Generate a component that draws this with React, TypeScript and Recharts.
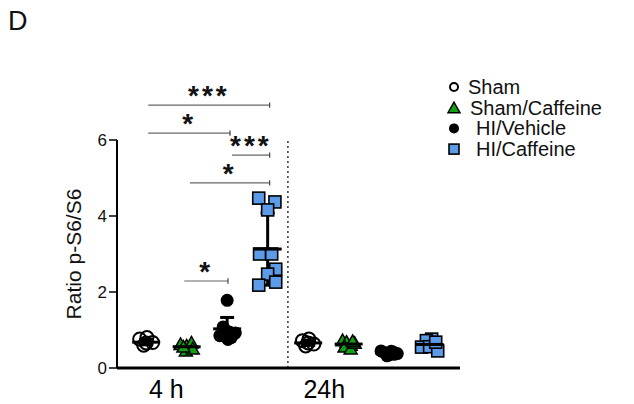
import React from "react";
import { ScatterChart, Scatter, XAxis, YAxis, ReferenceLine, ErrorBar, Label } from "recharts";

const FONT = "'Liberation Sans', Arial, sans-serif";

const groups = ["Sham", "Sham/Caffeine", "HI/Vehicle", "HI/Caffeine"];
const timeLabels = ["4 h", "24h"];
const timeTickPos = [1.5, 5.4];
const yTicks = [0, 2, 4, 6];

// values read per animal, plus horizontal jitter within the group slot
const sham4h = [0.76, 0.8, 0.67, 0.6, 0.66];
const sham4hJit = [-0.16, 0.02, 0.16, -0.06, 0.0];
const shamCaf4h = [0.62, 0.58, 0.66, 0.45, 0.5, 0.55];
const shamCaf4hJit = [-0.15, 0.0, 0.12, -0.02, 0.15, -0.08];
const hiVeh4h = [1.78, 1.08, 0.95, 0.85, 0.8, 0.92, 0.75, 1.0];
const hiVeh4hJit = [0.0, -0.1, 0.05, -0.18, 0.1, 0.2, 0.02, -0.05];
const hiCaf4h = [4.47, 4.37, 4.16, 3.0, 3.0, 2.6, 2.47, 2.26, 2.18];
const hiCaf4hJit = [-0.22, 0.18, 0.0, -0.2, 0.1, 0.2, 0.0, 0.2, -0.22];

const sham24h = [0.72, 0.76, 0.63, 0.58, 0.66];
const sham24hJit = [-0.14, 0.02, 0.14, -0.06, 0.0];
const shamCaf24h = [0.72, 0.68, 0.6, 0.55, 0.5, 0.65, 0.7];
const shamCaf24hJit = [-0.15, -0.05, 0.05, -0.1, 0.05, 0.15, 0.1];
const hiVeh24h = [0.45, 0.4, 0.35, 0.42, 0.38, 0.32, 0.36, 0.44];
const hiVeh24hJit = [-0.2, -0.1, 0.0, 0.1, 0.2, -0.05, 0.12, 0.05];
const hiCaf24h = [0.76, 0.72, 0.55, 0.56, 0.45, 0.68];
const hiCaf24hJit = [0.05, -0.08, -0.2, 0.0, 0.2, 0.15];

const means = [0.68, 0.56, 1.03, 3.13, 0.66, 0.63, 0.39, 0.62];
const sds = [0.07, 0.08, 0.3, 0.95, 0.06, 0.08, 0.05, 0.11];

const brackets = [
  { x1: 1.05, x2: 4.05, y: 6.92, mark: "***" },
  { x1: 1.05, x2: 3.07, y: 6.18, mark: "*" },
  { x1: 3.12, x2: 4.05, y: 5.6, mark: "***" },
  { x1: 2.08, x2: 4.05, y: 4.87, mark: "*" },
  { x1: 1.94, x2: 3.02, y: 2.29, mark: "*" },
];

const toPoints = (slot: number, vals: number[], jit: number[]) =>
  vals.map((v, i) => ({ x: slot + jit[i], y: v }));

const OpenCircle = (p: any) => (
  <circle cx={p.cx} cy={p.cy} r={6.5} fill="none" stroke="#000" strokeWidth={2} />
);
const Triangle = (p: any) => (
  <polygon
    points={`${p.cx},${p.cy - 6.5} ${p.cx - 6.5},${p.cy + 5} ${p.cx + 6.5},${p.cy + 5}`}
    fill="#12a012"
    stroke="#000"
    strokeWidth={1.5}
  />
);
const Dot = (p: any) => <circle cx={p.cx} cy={p.cy} r={6.5} fill="#000" />;
const Square = (p: any) => (
  <rect x={p.cx - 6} y={p.cy - 6} width={12} height={12} fill="#5b9be8" stroke="#000" strokeWidth={1.6} />
);
const MeanLine = (p: any) => (
  <line x1={p.cx - 14} x2={p.cx + 14} y1={p.cy} y2={p.cy} stroke="#000" strokeWidth={3} />
);

const shapes = [OpenCircle, Triangle, Dot, Square];

const series = [
  { data: toPoints(1, sham4h, sham4hJit), shape: 0 },
  { data: toPoints(2, shamCaf4h, shamCaf4hJit), shape: 1 },
  { data: toPoints(3, hiVeh4h, hiVeh4hJit), shape: 2 },
  { data: toPoints(4, hiCaf4h, hiCaf4hJit), shape: 3 },
  { data: toPoints(5, sham24h, sham24hJit), shape: 0 },
  { data: toPoints(6, shamCaf24h, shamCaf24hJit), shape: 1 },
  { data: toPoints(7, hiVeh24h, hiVeh24hJit), shape: 2 },
  { data: toPoints(8, hiCaf24h, hiCaf24hJit), shape: 3 },
];

const meanData = means.map((m, i) => ({ x: i + 1, y: m, sd: sds[i] }));

function LegendMarker({ kind, x, y }: { kind: number; x: number; y: number }) {
  if (kind === 0) return <circle cx={x} cy={y} r={4} fill="none" stroke="#000" strokeWidth={2} />;
  if (kind === 1)
    return (
      <polygon points={`${x},${y - 5.5} ${x - 6},${y + 5} ${x + 6},${y + 5}`} fill="#12a012" stroke="#000" strokeWidth={1.5} />
    );
  if (kind === 2) return <circle cx={x} cy={y} r={5} fill="#000" />;
  return <rect x={x - 5} y={y - 5} width={10} height={10} fill="#5b9be8" stroke="#000" strokeWidth={1.6} />;
}

export default function App() {
  return (
    <div style={{ position: "relative", width: 626, height: 396, fontFamily: FONT }}>
      <ScatterChart width={626} height={396} margin={{ top: 132, right: 174, bottom: 6, left: 59 }}>
        <XAxis
          dataKey="x"
          type="number"
          domain={[0.28, 8.75]}
          allowDataOverflow
          ticks={timeTickPos}
          tickFormatter={(v: number) => timeLabels[timeTickPos.indexOf(v)]}
          tickLine={false}
          axisLine={{ stroke: "#000", strokeWidth: 3 }}
          tick={{ fill: "#000", fontSize: 25, fontFamily: FONT, dy: 4 }}
          height={30}
        />
        <YAxis
          dataKey="y"
          type="number"
          domain={[0, 6]}
          ticks={yTicks}
          width={50}
          tickSize={8}
          axisLine={{ stroke: "#000", strokeWidth: 2 }}
          tickLine={{ stroke: "#000", strokeWidth: 1.5 }}
          tick={{ fill: "#111", fontSize: 17, fontFamily: FONT }}
          label={{
            content: (props: any) => {
              const vb = props.viewBox;
              const cx = vb.x + 14;
              const cy = vb.y + vb.height / 2;
              return (
                <text x={cx} y={cy} transform={`rotate(-90 ${cx} ${cy})`} textAnchor="middle" fontSize={21} fontFamily={FONT} fill="#111">
                  Ratio p-S6/S6
                </text>
              );
            },
          }}
        />
        <ReferenceLine x={4.5} stroke="#333" strokeWidth={1.5} strokeDasharray="2 3" />
        {brackets.map((b, i) => (
          <ReferenceLine
            key={"b" + i}
            segment={[
              { x: b.x1, y: b.y },
              { x: b.x2, y: b.y },
            ]}
            ifOverflow="visible"
            stroke="#666"
            strokeWidth={1.2}
          >
            <Label value={b.mark} position="top" offset={0} fontSize={28} fontWeight="bold" fill="#111" fontFamily={FONT} letterSpacing={3} />
          </ReferenceLine>
        ))}
        {brackets.map((b, i) => (
          <ReferenceLine
            key={"t" + i}
            segment={[
              { x: b.x2, y: b.y - 0.07 },
              { x: b.x2, y: b.y + 0.07 },
            ]}
            ifOverflow="visible"
            stroke="#444"
            strokeWidth={1.2}
          />
        ))}
        {series.map((s, i) => (
          <Scatter key={"s" + i} name={groups[s.shape]} data={s.data} shape={shapes[s.shape]} isAnimationActive={false} />
        ))}
        <Scatter data={meanData} shape={MeanLine} isAnimationActive={false}>
          <ErrorBar dataKey="sd" direction="y" width={7} strokeWidth={3} stroke="#000" />
        </Scatter>
      </ScatterChart>
      <div style={{ position: "absolute", left: 0, top: -2, fontSize: 27, color: "#111" }}>D</div>
      <svg style={{ position: "absolute", left: 432, top: 60 }} width={194} height={100}>
        {groups.map((g, i) => (
          <g key={g}>
            <LegendMarker kind={i} x={14} y={19 + i * 20.7} />
            <text x={i === 0 ? 28 : i === 1 ? 30 : 36} y={19 + i * 20.7 + 7} fontSize={20} fontFamily={FONT} fill="#111">
              {g}
            </text>
          </g>
        ))}
      </svg>
    </div>
  );
}
